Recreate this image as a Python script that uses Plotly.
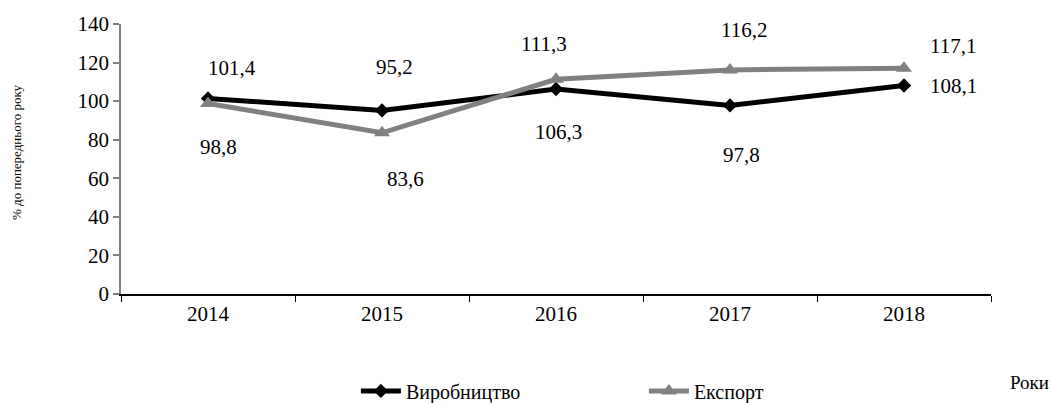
import plotly.graph_objects as go

years = ["2014", "2015", "2016", "2017", "2018"]
production = [101.4, 95.2, 106.3, 97.8, 108.1]
export = [98.8, 83.6, 111.3, 116.2, 117.1]

# per-point label offsets (px) for each series
prod_shift = [(24, 30), (12, 43), (2, -43), (11, -50), (49, 0)]
exp_shift = [(10, -44), (23, -46), (-12, 35), (14, 40), (49, 22)]

FONT = "Liberation Serif, Times New Roman, serif"

fig = go.Figure()
fig.add_trace(go.Scatter(
    x=years, y=production, name="Виробництво", mode="lines+markers",
    line=dict(color="black", width=5),
    marker=dict(symbol="diamond", size=11, color="black"),
))
fig.add_trace(go.Scatter(
    x=years, y=export, name="Експорт", mode="lines+markers",
    line=dict(color="#808080", width=5),
    marker=dict(symbol="triangle-up", size=14, color="#808080"),
))

annotations = []
for vals, shifts in ((production, prod_shift), (export, exp_shift)):
    for i, (v, (dx, dy)) in enumerate(zip(vals, shifts)):
        annotations.append(dict(
            x=i, y=v, text=f"{v:.1f}".replace(".", ","), showarrow=False,
            xshift=dx, yshift=dy, font=dict(family=FONT, size=21, color="black"),
        ))
annotations.append(dict(
    x=1.0448, y=-0.326, xref="paper", yref="paper", text="Роки", showarrow=False,
    xanchor="center", yanchor="middle",
    font=dict(family=FONT, size=19, color="black"),
))
annotations.append(dict(
    x=-0.1195, y=0.526, xref="paper", yref="paper", text="% до попереднього року",
    textangle=-90, showarrow=False, xanchor="center", yanchor="middle",
    font=dict(family=FONT, size=13, color="black"),
))

fig.update_layout(
    width=1051, height=403,
    margin=dict(l=121, r=60, t=24, b=109),
    paper_bgcolor="white", plot_bgcolor="white",
    font=dict(family=FONT, size=21, color="black"),
    showlegend=True,
    legend=dict(
        orientation="h", x=0.270, y=0.03, xref="paper", yref="container",
        xanchor="left", yanchor="middle",
        font=dict(family=FONT, size=20, color="black"),
        entrywidth=233, itemwidth=40, bgcolor="rgba(0,0,0,0)",
    ),
    annotations=annotations,
    xaxis=dict(
        type="category", range=[-0.5, 4.5], tickson="boundaries",
        showline=True, linecolor="black", linewidth=1.5,
        ticks="outside", ticklen=6, tickcolor="black", tickwidth=1,
        showgrid=False, zeroline=False, fixedrange=True,
    ),
    yaxis=dict(
        range=[0, 140], tickvals=[0, 20, 40, 60, 80, 100, 120, 140],
        showline=True, linecolor="#808080", linewidth=1.5,
        ticks="outside", ticklen=6, tickcolor="#808080", tickwidth=1.5,
        showgrid=False, zeroline=False, fixedrange=True,
    ),
)

fig.write_html("out.html")
